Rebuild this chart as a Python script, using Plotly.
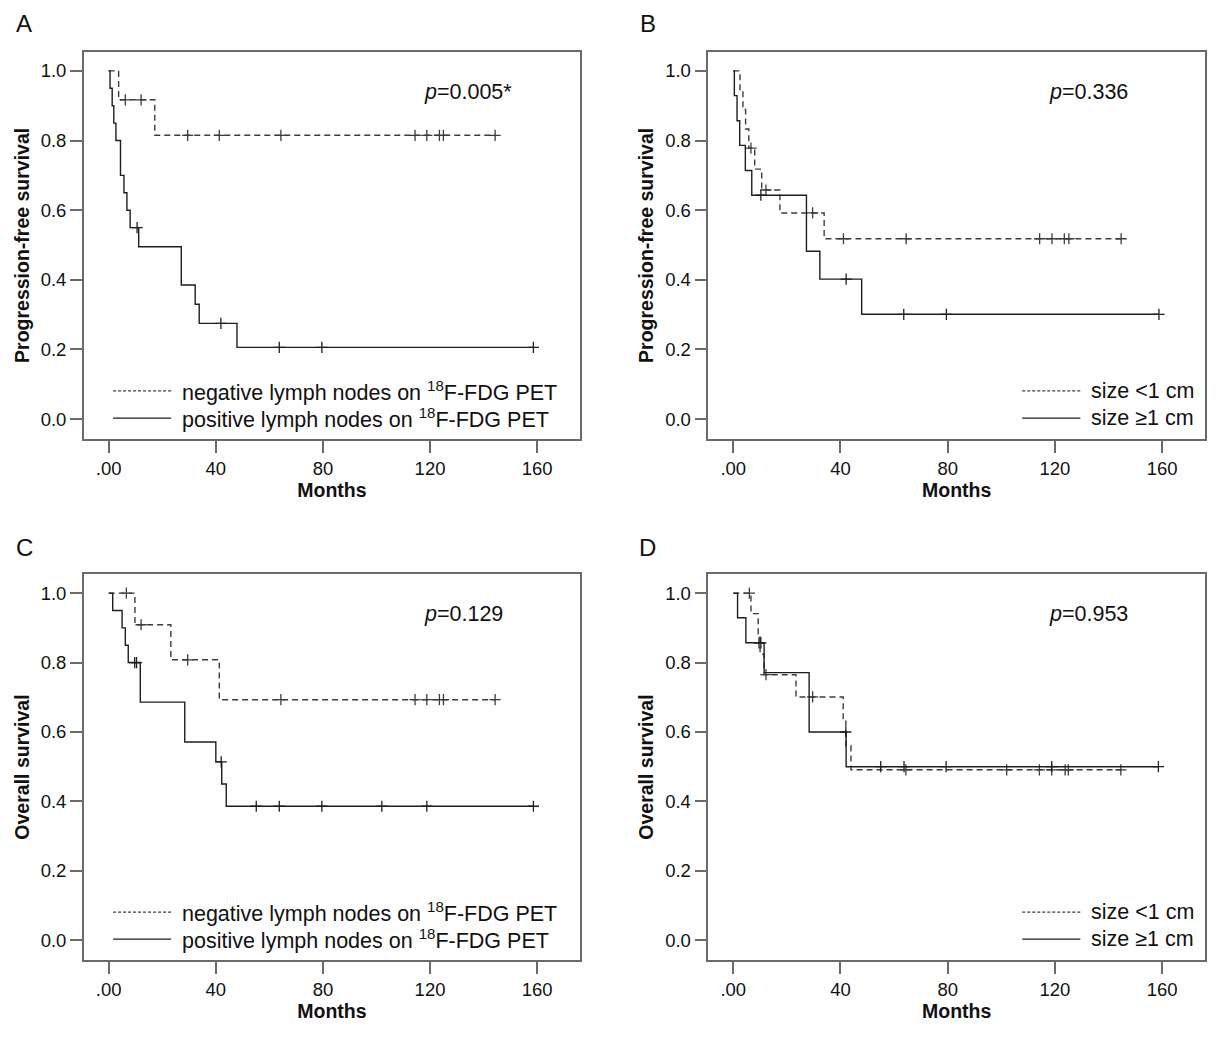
import plotly.graph_objects as go

# ---- data (months, survival) ----
# A: progression-free survival by lymph node status on 18F-FDG PET
a_neg_t = [0, 3.7, 17.2, 144.3]
a_neg_s = [1.0, 0.917, 0.815, 0.815]
a_neg_cens = [6.2, 12.1, 29.5, 41.3, 64.3, 114.4, 118.8, 123.5, 125.0, 144.3]

a_pos_t = [0, 0.5, 1.3, 1.9, 2.7, 4.4, 5.7, 6.8, 8.0, 11.2, 27.1, 32.3, 33.8, 47.9, 158.6]
a_pos_s = [1.0, 0.95, 0.90, 0.85, 0.80, 0.70, 0.65, 0.60, 0.55, 0.495, 0.385, 0.33, 0.275, 0.206, 0.206]
a_pos_cens = [10.6, 41.9, 63.7, 79.6, 158.6]

# B: progression-free survival by size
b_small_t = [0, 2.5, 3.6, 4.6, 5.8, 8.0, 10.6, 17.4, 33.9, 144.7]
b_small_s = [1.0, 0.944, 0.889, 0.833, 0.778, 0.718, 0.658, 0.592, 0.518, 0.518]
b_small_cens = [6.6, 12.2, 29.6, 41.1, 64.5, 114.3, 118.9, 123.5, 125.2, 144.7]

b_large_t = [0, 0.4, 1.4, 2.4, 4.5, 6.9, 27.3, 32.3, 47.9, 158.8]
b_large_s = [1.0, 0.929, 0.857, 0.786, 0.714, 0.643, 0.482, 0.402, 0.301, 0.301]
b_large_cens = [10.3, 42.1, 63.6, 79.5, 158.8]

# C: overall survival by lymph node status on 18F-FDG PET
c_neg_t = [0, 9.8, 23.2, 41.3, 144.3]
c_neg_s = [1.0, 0.909, 0.808, 0.693, 0.693]
c_neg_cens = [6.6, 12.1, 29.5, 64.3, 114.4, 118.8, 123.5, 125.0, 144.3]

c_pos_t = [0, 1.5, 5.0, 6.2, 7.3, 11.8, 28.4, 40.0, 42.2, 43.9, 158.6]
c_pos_s = [1.0, 0.95, 0.90, 0.85, 0.80, 0.686, 0.571, 0.514, 0.45, 0.386, 0.386]
c_pos_cens = [9.7, 10.4, 42.0, 55.1, 63.7, 79.6, 102.0, 118.8, 158.6]

# D: overall survival by size
d_small_t = [0, 6.6, 9.3, 10.0, 11.5, 23.4, 41.0, 42.0, 43.9, 144.6]
d_small_s = [1.0, 0.941, 0.882, 0.824, 0.765, 0.701, 0.631, 0.561, 0.491, 0.491]
d_small_cens = [6.0, 12.2, 29.6, 64.4, 102.0, 114.2, 118.8, 123.8, 125.0, 144.6]

d_large_t = [0, 1.6, 4.7, 11.5, 28.3, 42.1, 158.8]
d_large_s = [1.0, 0.929, 0.857, 0.771, 0.60, 0.50, 0.50]
d_large_cens = [9.6, 10.3, 42.0, 55.0, 63.7, 79.4, 118.8, 158.6]

x_ticks = [0, 40, 80, 120, 160]
x_ticktext = [".00", "40", "80", "120", "160"]
y_ticks = [0.0, 0.2, 0.4, 0.6, 0.8, 1.0]

lymph_labels = ["negative lymph nodes on <sup>18</sup>F-FDG PET",
                "positive lymph nodes on <sup>18</sup>F-FDG PET"]
size_labels = ["size &lt;1 cm", "size \u22651 cm"]

FONT = "Liberation Sans, Arial, sans-serif"
SOLID = "#1e1e1e"
DASHED = "#3c3c3c"
FRAME = "#6a6a6a"


def surv_at(times, surv, t):
    # value of the step curve at time t
    val = surv[0]
    for ti, si in zip(times, surv):
        if ti <= t:
            val = si
    return val


def add_curve(fig, n, times, surv, cens, dashed):
    color = DASHED if dashed else SOLID
    xa = "x" + n
    ya = "y" + n
    fig.add_trace(go.Scatter(
        x=times, y=surv, mode="lines", line_shape="hv",
        line=dict(color=color, width=1.4, dash="6px,4px" if dashed else "solid"),
        xaxis=xa, yaxis=ya, showlegend=False, hoverinfo="skip"))
    fig.add_trace(go.Scatter(
        x=cens, y=[surv_at(times, surv, t) for t in cens], mode="markers",
        marker=dict(symbol="cross-thin", size=8, line=dict(color=color, width=1.3)),
        xaxis=xa, yaxis=ya, showlegend=False, hoverinfo="skip"))


panels = [
    # suffix, x domain, y domain, y title, curves, legend labels, legend x, p text, letter pos
    ("", [0.0683, 0.4727], [0.5775, 0.9502], "Progression-free survival",
     [(a_neg_t, a_neg_s, a_neg_cens, True), (a_pos_t, a_pos_s, a_pos_cens, False)],
     lymph_labels, 0.059, "<i>p</i>=0.005*", "A", 0.0196, 0.977),
    ("2", [0.5773, 0.9821], [0.5775, 0.9502], "Progression-free survival",
     [(b_small_t, b_small_s, b_small_cens, True), (b_large_t, b_large_s, b_large_cens, False)],
     size_labels, 0.632, "<i>p</i>=0.336", "B", 0.528, 0.977),
    ("3", [0.0683, 0.4727], [0.0760, 0.4475], "Overall survival",
     [(c_neg_t, c_neg_s, c_neg_cens, True), (c_pos_t, c_pos_s, c_pos_cens, False)],
     lymph_labels, 0.059, "<i>p</i>=0.129", "C", 0.0196, 0.473),
    ("4", [0.5773, 0.9821], [0.0760, 0.4475], "Overall survival",
     [(d_small_t, d_small_s, d_small_cens, True), (d_large_t, d_large_s, d_large_cens, False)],
     size_labels, 0.632, "<i>p</i>=0.953", "D", 0.528, 0.473),
]

fig = go.Figure()
layout = {}
shapes = []
annotations = []

for n, xdom, ydom, ytitle, curves, labels, leg_x, ptext, letter, lx, ly in panels:
    for times, surv, cens, dashed in curves:
        add_curve(fig, n, times, surv, cens, dashed)

    axis_common = dict(
        showline=True, mirror=True, linecolor=FRAME, linewidth=1.5,
        ticks="outside", ticklen=12, tickwidth=1.5, tickcolor=FRAME,
        showgrid=False, zeroline=False,
        tickfont=dict(family=FONT, size=18.5, color="#111111"))
    layout["xaxis" + n] = dict(
        axis_common, domain=xdom, anchor="y" + n, range=[-9.3, 176],
        tickvals=x_ticks, ticktext=x_ticktext,
        title=dict(text="<b>Months</b>", standoff=3,
                   font=dict(family=FONT, size=19.5, color="#111111")))
    layout["yaxis" + n] = dict(
        axis_common, domain=ydom, anchor="x" + n, range=[-0.057, 1.055],
        tickvals=y_ticks, tickformat=".1f",
        title=dict(text="<b>" + ytitle + "</b>", standoff=6,
                   font=dict(family=FONT, size=19.5, color="#111111")))

    # legend drawn inside the plot area, lower part
    for i, (label, dashed) in enumerate(zip(labels, [True, False])):
        yy = 0.124 - i * 0.07
        shapes.append(dict(
            type="line", xref="x" + n + " domain", yref="y" + n + " domain",
            x0=leg_x, x1=leg_x + 0.117, y0=yy, y1=yy,
            line=dict(color=DASHED if dashed else SOLID, width=1.2,
                      dash="3px,2px" if dashed else "solid")))
        annotations.append(dict(
            xref="x" + n + " domain", yref="y" + n + " domain",
            x=leg_x + 0.135, y=yy, text=label, showarrow=False,
            xanchor="left", yanchor="middle",
            font=dict(family=FONT, size=21.5, color="#111111")))

    annotations.append(dict(
        xref="x" + n, yref="y" + n, x=117, y=0.94, text=ptext,
        showarrow=False, xanchor="left", yanchor="middle",
        font=dict(family=FONT, size=21.5, color="#111111")))
    annotations.append(dict(
        xref="paper", yref="paper", x=lx, y=ly, text=letter,
        showarrow=False, xanchor="center", yanchor="middle",
        font=dict(family=FONT, size=24, color="#111111")))

fig.update_layout(
    template="none",
    width=1227, height=1039,
    margin=dict(l=0, r=0, t=0, b=0),
    paper_bgcolor="white", plot_bgcolor="white",
    font=dict(family=FONT, color="#111111"),
    shapes=shapes, annotations=annotations,
    **layout)

# page body has a default 8px margin; drop it so the figure sits at the corner
fig.write_html("out.html", config={"displayModeBar": False},
               post_script="document.body.style.margin='0';")
